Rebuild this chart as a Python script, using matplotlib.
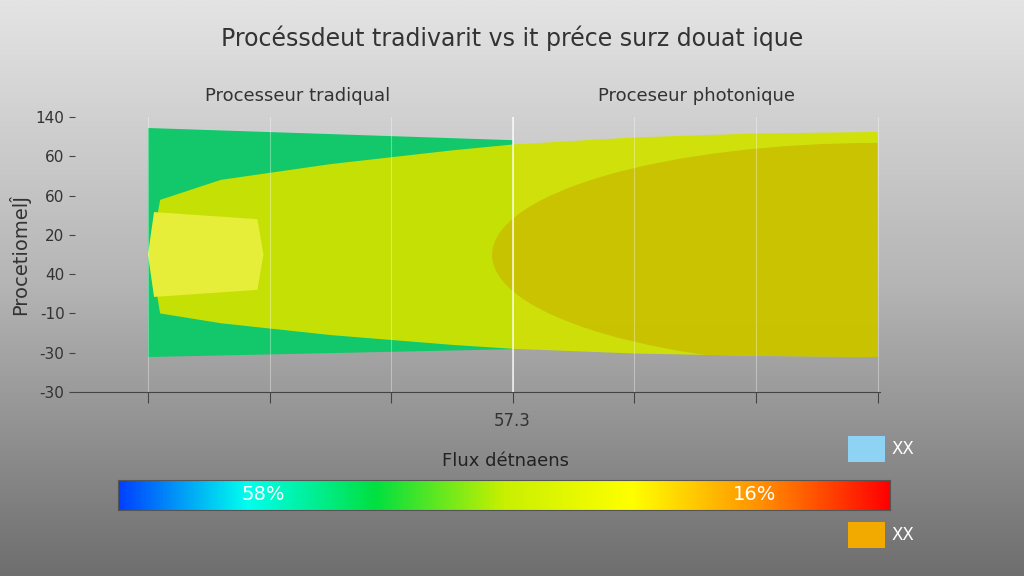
import numpy as np
import matplotlib.pyplot as plt
from matplotlib.patches import Polygon, Ellipse, Rectangle
from matplotlib.colors import LinearSegmentedColormap

W, H = 1024, 576
title = "Procéssdeut tradivarit vs it préce surz douat ique"
panel_titles = ["Processeur tradiqual", "Proceseur photonique"]
y_labels = ["-30", "-30", "-10", "40", "20", "60", "60", "140"]
x_tick_label = "57.3"
bar_title = "Flux détnaens"
bar_labels = ["58%", "16%"]
legend_labels = ["XX", "XX"]
legend_colors = ["#8fd3f4", "#f2a900"]

green_x = [0.0, 3.0, 3.0, 0.0]
green_y = [6.72, 6.41, 1.09, 0.89]
yel_top_x = [0.1, 0.6, 1.5, 2.5, 3.0, 4.0, 5.0, 6.0]
yel_top_y = [4.89, 5.4, 5.8, 6.15, 6.3, 6.48, 6.58, 6.62]
yel_bot_y = [2.0, 1.75, 1.45, 1.2, 1.1, 0.98, 0.92, 0.89]

fig = plt.figure(figsize=(W/100, H/100), dpi=100)
bg = fig.add_axes([0, 0, 1, 1])
grad = np.linspace(0, 1, 256)[:, None]
bg.imshow(grad, cmap=LinearSegmentedColormap.from_list("g", ["#e4e4e4", "#b4b4b4", "#6e6e6e"]),
          aspect="auto", extent=[0, 1, 0, 1])
bg.set_xlim(0, 1); bg.set_ylim(0, 1); bg.axis("off")

fig.text(0.5, 1-38/H, title, ha="center", va="center", fontsize=17, color="#333333")
fig.text(298/W, 1-96/H, panel_titles[0], ha="center", va="center", fontsize=13, color="#333333")
fig.text(697/W, 1-96/H, panel_titles[1], ha="center", va="center", fontsize=13, color="#333333")

ax = fig.add_axes([75/W, 1-392/H, (880-75)/W, (392-117)/H])
ax.patch.set_alpha(0)
ax.set_xlim(-0.6, 6.02); ax.set_ylim(0, 7)
ax.add_patch(Polygon(list(zip(green_x, green_y)), closed=True, fc="#12c86a", ec="none"))
poly = list(zip(yel_top_x, yel_top_y)) + list(zip(yel_top_x[::-1], yel_bot_y[::-1])) + [(0.02, 3.5)]
ypatch = Polygon(poly, closed=True, fc="#d0e200", ec="none", alpha=0.95)
ax.add_patch(ypatch)
blob = [(0.05, 4.58), (0.9, 4.4), (0.95, 3.5), (0.9, 2.6), (0.05, 2.42), (0.0, 3.5)]
ax.add_patch(Polygon(blob, closed=True, fc="#e6ee3a", ec="none"))
ell = Ellipse((6.0, 3.49), 6.34, 5.7, fc="#c9bc00", ec="none", alpha=0.8)
ax.add_patch(ell)
ell.set_clip_path(ypatch)
for x in range(7):
    ax.axvline(x, color="white", lw=0.8, alpha=0.35)
ax.plot([3, 3], [0, 7], color="white", lw=1.2, alpha=0.8)
ax.set_yticks(range(8)); ax.set_yticklabels(y_labels, fontsize=11, color="#333333")
ax.set_xticks(range(7)); ax.set_xticklabels(["", "", "", "", "", "", ""])
ax.tick_params(axis="x", length=8, color="#444444", direction="out")
ax.tick_params(axis="y", length=4, color="#444444")
for s in ["top", "right", "left"]:
    ax.spines[s].set_visible(False)
ax.spines["bottom"].set_color("#444444")
ax.set_ylabel("Procetiomel\u0134", fontsize=14, color="#333333", labelpad=4)
fig.text(512/W, 1-421/H, x_tick_label, ha="center", va="center", fontsize=12, color="#333333")

fig.text(505/W, 1-461/H, bar_title, ha="center", va="center", fontsize=13, color="#222222")
cmap = LinearSegmentedColormap.from_list("bar", ["#0040ff", "#00ffee", "#00e040", "#c8f000", "#ffff00", "#ff9000", "#ff0000"])
cax = fig.add_axes([118/W, 1-510/H, (890-118)/W, 30/H])
cax.imshow(np.linspace(0, 1, 512)[None, :], cmap=cmap, aspect="auto", extent=[0, 1, 0, 1])
cax.set_xticks([]); cax.set_yticks([])
for s in cax.spines.values():
    s.set_color("#555555")
fig.text(263/W, 1-495/H, bar_labels[0], ha="center", va="center", fontsize=14, color="white")
fig.text(755/W, 1-495/H, bar_labels[1], ha="center", va="center", fontsize=14, color="white")

for (yc, lab, col) in zip([449, 535], legend_labels, legend_colors):
    fig.patches.append(Rectangle((848/W, 1-(yc+13)/H), 37/W, 26/H, transform=fig.transFigure, fc=col, ec="none"))
    fig.text(892/W, 1-yc/H, lab, ha="left", va="center", fontsize=12, color="white")

fig.savefig("out.png", dpi=100)
